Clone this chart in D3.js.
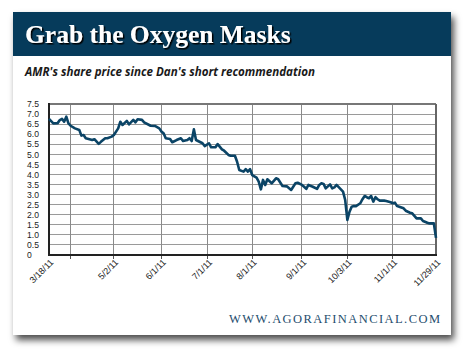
<!DOCTYPE html>
<html><head><meta charset="utf-8">
<script src="https://cdn.jsdelivr.net/npm/d3@7"></script>
<style>html,body{margin:0;padding:0;background:#fff;}svg{display:block;}</style>
</head><body>
<script>
// ---- data (trading-day index since 3/18/11, AMR price) ----
const days = [0,2,4,5,6,7,8,9,10,12,14,15,16,17,20,21,23,24,26,27,29,30,32,33,34,36,37,39,40,41,43,44,47,49,51,52,53,54,56,57,59,61,62,64,65,66,67,68,71,72,74,75,77,78,80,81,83,84,86,87,88,90,91,92,93,94,96,97,98,99,100,101,103,105,106,108,110,112,114,115,117,118,119,120,122,124,125,126,127,128,130,131,132,133,135,136,137,138,139,140,141,142,144,145,146,147,148,149,150,151,152,153,155,156,158,159,160,161,162,164,165,167,168,170,172,173,175,176,177,178,179];
const prices = [6.76,6.54,6.55,6.70,6.76,6.62,6.87,6.54,6.42,6.29,6.21,5.93,5.96,5.80,5.71,5.75,5.52,5.62,5.80,5.80,5.88,5.96,6.29,6.62,6.46,6.66,6.49,6.71,6.59,6.74,6.71,6.59,6.42,6.41,6.29,6.13,6.05,5.80,5.76,5.60,5.71,5.80,5.66,5.71,5.80,5.66,6.24,5.71,5.55,5.41,5.55,5.35,5.35,5.51,5.25,5.18,4.97,4.93,4.93,4.63,4.22,4.14,4.26,4.14,4.26,3.97,3.84,3.64,3.26,3.73,3.48,3.76,3.56,3.81,3.76,3.43,3.41,3.23,3.56,3.59,3.48,3.39,3.28,3.48,3.39,3.28,3.48,3.56,3.53,3.31,3.51,3.31,3.36,3.48,3.26,3.15,2.73,1.74,2.15,2.40,2.43,2.43,2.57,2.77,2.93,2.87,2.82,2.93,2.65,2.87,2.77,2.70,2.70,2.68,2.62,2.57,2.60,2.43,2.40,2.32,2.20,2.10,2.07,1.82,1.82,1.69,1.60,1.57,1.57,1.57,0.85,0.33];
const tickLabels = ["3/18/11","5/2/11","6/1/11","7/1/11","8/1/11","9/1/11","10/3/11","11/1/11","11/29/11"];
const tickDays = [0,30,52,73.5,94,117,138,159,179];
const gridDays = [10,30,52,73.5,94,117,138,159];
const yTicks = [0,0.5,1,1.5,2,2.5,3,3.5,4,4.5,5,5.5,6,6.5,7,7.5];
const title = "Grab the Oxygen Masks";
const subtitle = "AMR's share price since Dan's short recommendation";
const footer = "WWW.AGORAFINANCIAL.COM";

const W = 470, H = 357;
const svg = d3.select("body").append("svg").attr("width", W).attr("height", H);
const defs = svg.append("defs");
const f = defs.append("filter").attr("id","sh").attr("x","-10%").attr("y","-10%").attr("width","125%").attr("height","125%");
f.append("feDropShadow").attr("dx",3).attr("dy",5).attr("stdDeviation",3.5).attr("flood-color","#000").attr("flood-opacity",0.7);
const tf = defs.append("filter").attr("id","tsh");
tf.append("feDropShadow").attr("dx",1.5).attr("dy",1.5).attr("stdDeviation",0.4).attr("flood-color","#000").attr("flood-opacity",1);

// card
svg.append("rect").attr("x",13).attr("y",12).attr("width",438).attr("height",323).attr("fill","#fff").attr("filter","url(#sh)");
svg.append("rect").attr("x",13).attr("y",12).attr("width",438).attr("height",44).attr("fill","#063b5b");
svg.append("text").attr("x",25).attr("y",43).text(title)
  .attr("font-family","'Liberation Serif', serif").attr("font-weight","bold").attr("font-size",25.5)
  .attr("fill","#fff").attr("filter","url(#tsh)");
svg.append("text").attr("x",25).attr("y",76).text(subtitle)
  .attr("font-family","'Open Sans', sans-serif").attr("font-weight","bold").attr("font-style","italic")
  .attr("font-size",12).attr("fill","#1a1a1a").attr("textLength",290).attr("lengthAdjust","spacingAndGlyphs");

const x = d3.scaleLinear().domain([0,179]).range([49,436]);
const y = d3.scaleLinear().domain([0,7.5]).range([255,104]);

const g = svg.append("g");
// horizontal grid
g.selectAll(".hg").data(yTicks.slice(1,-1)).join("line")
  .attr("x1",x(0)).attr("x2",x(179)).attr("y1",d=>y(d)).attr("y2",d=>y(d))
  .attr("stroke","#9a9a9a").attr("stroke-width",1).attr("shape-rendering","crispEdges");
g.selectAll(".vg").data(gridDays).join("line")
  .attr("x1",d=>x(d)).attr("x2",d=>x(d)).attr("y1",y(7.5)).attr("y2",y(0))
  .attr("stroke","#8a8a8a").attr("stroke-width",1).attr("shape-rendering","crispEdges");
// ticks under bottom axis
g.selectAll(".tk").data(gridDays).join("line")
  .attr("x1",d=>x(d)).attr("x2",d=>x(d)).attr("y1",y(0)).attr("y2",y(0)+4)
  .attr("stroke","#555").attr("stroke-width",1).attr("shape-rendering","crispEdges");
// border
g.append("line").attr("x1",x(0)).attr("x2",x(179)).attr("y1",y(7.5)).attr("y2",y(7.5)).attr("stroke","#777").attr("stroke-width",2);
g.append("line").attr("x1",x(179)).attr("x2",x(179)).attr("y1",y(7.5)).attr("y2",y(0)).attr("stroke","#666").attr("stroke-width",2);
g.append("line").attr("x1",x(0)).attr("x2",x(179)+1).attr("y1",y(0)).attr("y2",y(0)).attr("stroke","#222").attr("stroke-width",2);
g.append("line").attr("x1",x(0)).attr("x2",x(0)).attr("y1",y(7.5)-1).attr("y2",y(0)+1).attr("stroke","#222").attr("stroke-width",2);

// y labels
g.selectAll(".yl").data(yTicks).join("text")
  .attr("x",27).attr("y",d=>y(d)+3.2).text(d=>d===0?"0":d.toFixed(1))
  .attr("font-family","'Liberation Sans', Arial, sans-serif").attr("font-size",8.6).attr("fill","#222");
// x labels
g.selectAll(".xl").data(tickDays).join("text")
  .attr("transform",d=>`translate(${x(d)+5},${y(0)+8}) rotate(-45)`)
  .attr("text-anchor","end").text((d,i)=>tickLabels[i])
  .attr("font-family","'Liberation Sans', Arial, sans-serif").attr("font-size",9).attr("fill","#222");

// line
const line = d3.line().x((d,i)=>x(days[i])).y(d=>y(d));
g.append("path").datum(prices).attr("d",line).attr("fill","none")
  .attr("stroke","#0b4466").attr("stroke-width",2.6).attr("stroke-linejoin","round");

svg.append("text").attr("x",229).attr("y",323).text(footer)
  .attr("font-family","'Liberation Serif', serif").attr("font-size",12.5).attr("fill","#1f4e6e")
  .attr("textLength",211).attr("lengthAdjust","spacing");
</script>
</body></html>
